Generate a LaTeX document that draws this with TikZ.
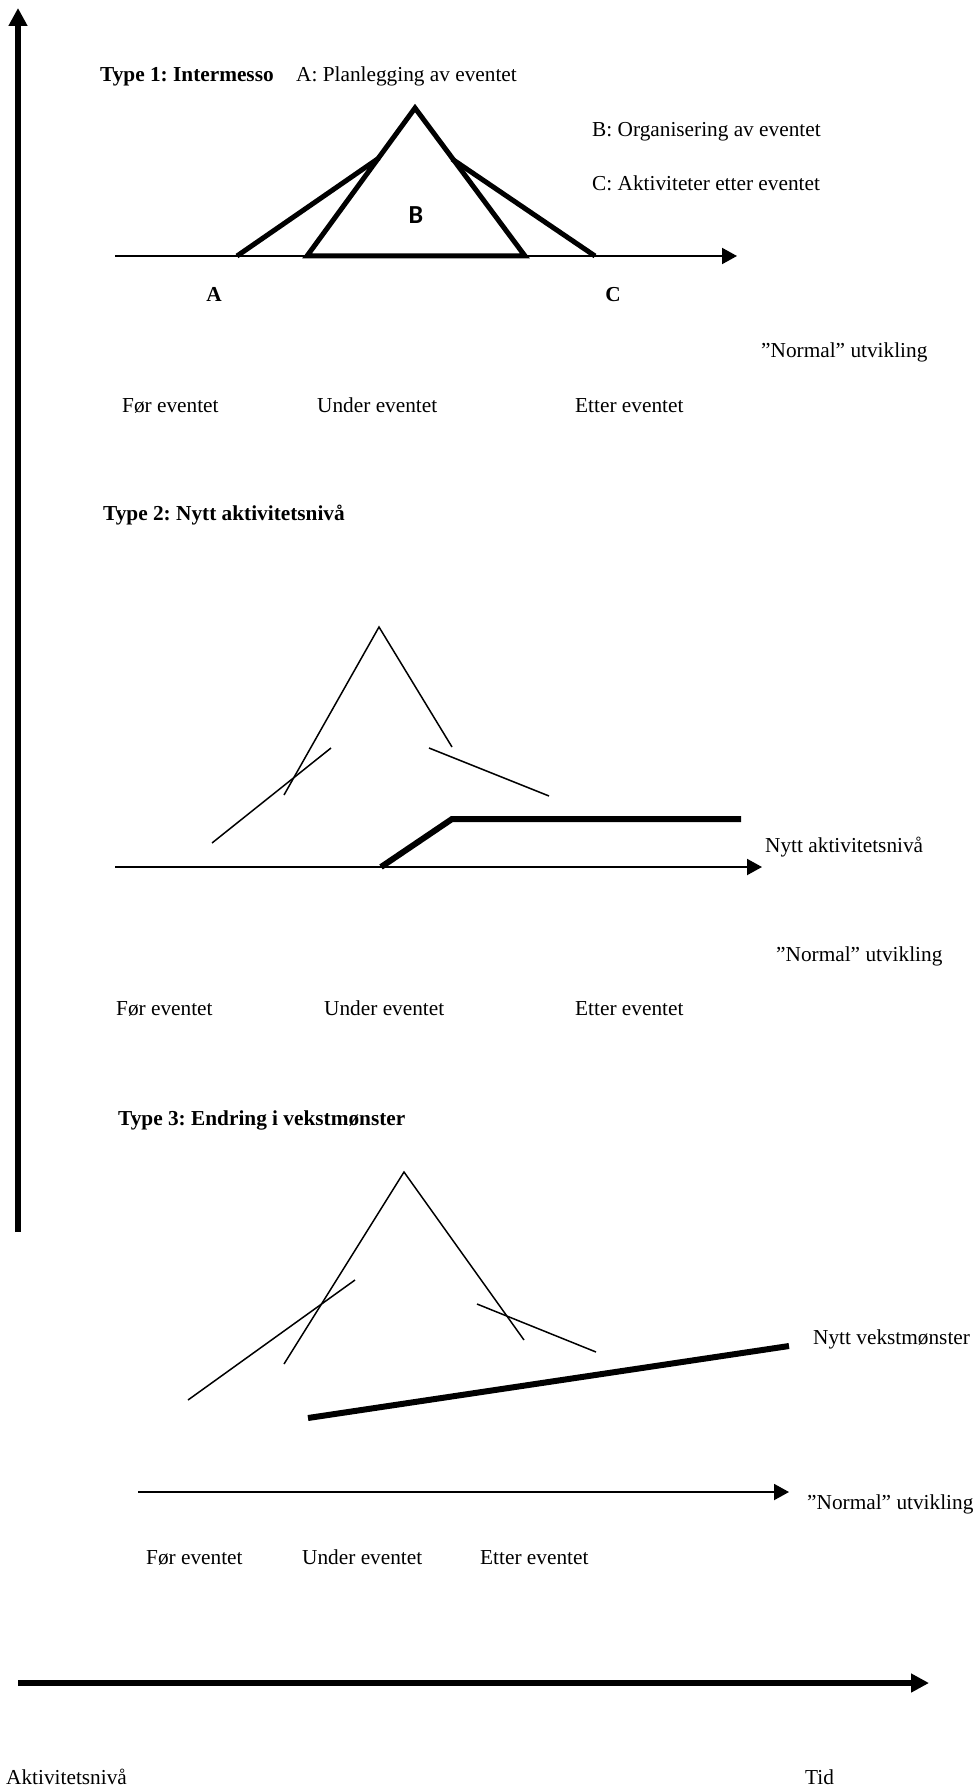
\documentclass[tikz,border=0pt]{standalone}
\usepackage{fontspec}
\setmainfont{Liberation Serif}
\newfontfamily\labelsans{Carlito}
\usetikzlibrary{arrows.meta}
\frenchspacing

\begin{document}
\begin{tikzpicture}[x=1pt,y=-1pt,
  txt/.style={anchor=west,inner sep=0pt,text height=14pt,text depth=0pt,
    font=\fontsize{21.3}{25}\selectfont},
  head/.style={txt,font=\fontsize{21.3}{25}\selectfont\bfseries},
  thinaxis/.style={line width=2pt,-{Triangle[length=15pt,width=16pt]}},
  peak/.style={line width=1.5pt},
  boldline/.style={line width=5pt},
  mainaxis/.style={line width=6pt,-{Triangle[length=18pt,width=18pt]}}]

\useasboundingbox (0,0) rectangle (977,1787);

% main axes
\coordinate (yorig) at (18,1232);
\coordinate (ytop) at (18,8);
\draw[mainaxis] (yorig) -- (ytop);
\coordinate (xorig) at (18,1683);
\coordinate (xend) at (929,1683);
\draw[mainaxis] (xorig) -- (xend);
\node[txt] (ylab) at (6,1777) {Aktivitetsnivå};
\node[txt] (xlab) at (805,1777) {Tid};

% ---- Type 1: Intermesso ----
\node[head] (t1) at (100,75) {Type 1: Intermesso};
\node[txt] (t1a) at (296,75) {A: Planlegging av eventet};
\node[txt] (t1b) at (592,130) {B: Organisering av eventet};
\node[txt] (t1c) at (592,184) {C: Aktiviteter etter eventet};
\coordinate (a1s) at (115,256);
\coordinate (a1e) at (737,256);
\draw[thinaxis] (a1s) -- (a1e);
\coordinate (bl) at (307,256);
\coordinate (bt) at (415,108);
\coordinate (br) at (525,256);
\draw[boldline,line join=miter] (bl) -- (bt) -- (br) -- cycle;
\coordinate (al) at (237,256);
\coordinate (ar) at (379,158);
\draw[boldline] (al) -- (ar);
\coordinate (cl) at (595,256);
\coordinate (cr) at (452,159);
\draw[boldline] (cl) -- (cr);
\node[inner sep=0pt,font=\labelsans\fontsize{26}{30}\selectfont\bfseries] (blab) at (416,215) {B};
\node[inner sep=0pt,text height=14pt,text depth=0pt,font=\fontsize{21.3}{25}\selectfont\bfseries] (alab) at (214,294) {A};
\node[inner sep=0pt,text height=14pt,text depth=0pt,font=\fontsize{21.3}{25}\selectfont\bfseries] (clab) at (613,294) {C};
\node[txt] (n1) at (761,350) {”Normal” utvikling};
\node[txt] (f1) at (122,405) {Før eventet};
\node[txt] (u1) at (317,405) {Under eventet};
\node[txt] (e1) at (575,405) {Etter eventet};

% ---- Type 2: Nytt aktivitetsnivå ----
\node[head] (t2) at (103,513) {Type 2: Nytt aktivitetsnivå};
\coordinate (p2l) at (284,795);
\coordinate (p2t) at (379,627);
\coordinate (p2r) at (452,747);
\draw[peak] (p2l) -- (p2t) -- (p2r);
\coordinate (q2a) at (212,843);
\coordinate (q2b) at (331,748);
\draw[peak] (q2a) -- (q2b);
\coordinate (r2a) at (429,748);
\coordinate (r2b) at (549,796);
\draw[peak] (r2a) -- (r2b);
\coordinate (a2s) at (115,867);
\coordinate (a2e) at (762,867);
\draw[thinaxis] (a2s) -- (a2e);
\coordinate (s2a) at (381,867);
\coordinate (s2b) at (452,819);
\coordinate (s2c) at (741,819);
\draw[line width=6pt,line join=miter] (s2a) -- (s2b) -- (s2c);
\node[txt] (nl2) at (765,845) {Nytt aktivitetsnivå};
\node[txt] (n2) at (776,954) {”Normal” utvikling};
\node[txt] (f2) at (116,1008) {Før eventet};
\node[txt] (u2) at (324,1008) {Under eventet};
\node[txt] (e2) at (575,1008) {Etter eventet};

% ---- Type 3: Endring i vekstmønster ----
\node[head] (t3) at (118,1118) {Type 3: Endring i vekstmønster};
\coordinate (p3l) at (284,1364);
\coordinate (p3t) at (404,1172);
\coordinate (p3r) at (524,1340);
\draw[peak] (p3l) -- (p3t) -- (p3r);
\coordinate (q3a) at (188,1400);
\coordinate (q3b) at (355,1280);
\draw[peak] (q3a) -- (q3b);
\coordinate (r3a) at (477,1304);
\coordinate (r3b) at (596,1352);
\draw[peak] (r3a) -- (r3b);
\coordinate (v3a) at (308,1418);
\coordinate (v3b) at (789,1346);
\draw[line width=6pt] (v3a) -- (v3b);
\node[txt] (nv3) at (813,1337) {Nytt vekstmønster};
\coordinate (a3s) at (138,1492);
\coordinate (a3e) at (789,1492);
\draw[thinaxis] (a3s) -- (a3e);
\node[txt] (n3) at (807,1502) {”Normal” utvikling};
\node[txt] (f3) at (146,1557) {Før eventet};
\node[txt] (u3) at (302,1557) {Under eventet};
\node[txt] (e3) at (480,1557) {Etter eventet};
\end{tikzpicture}
\end{document}
